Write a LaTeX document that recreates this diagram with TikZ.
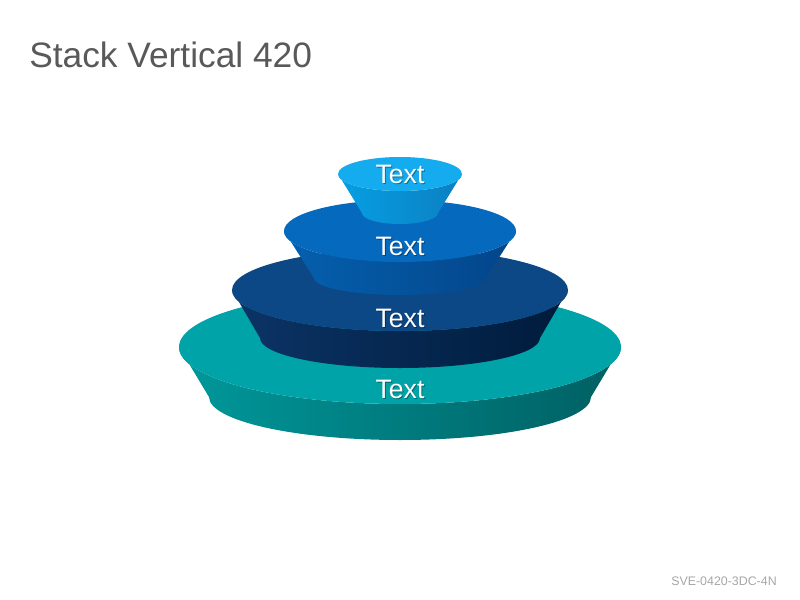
\documentclass[tikz,border=0pt]{standalone}
\usepackage{fontspec}
\setmainfont{Liberation Sans}

\definecolor{tealtop}{RGB}{0,164,168}
\definecolor{tealside}{RGB}{0,152,155}
\definecolor{tealdark}{RGB}{0,95,98}
\definecolor{navytop}{RGB}{12,72,134}
\definecolor{navyside}{RGB}{11,52,102}
\definecolor{navydark}{RGB}{0,27,59}
\definecolor{bluetop}{RGB}{5,105,190}
\definecolor{blueside}{RGB}{5,96,174}
\definecolor{bluedark}{RGB}{3,69,138}
\definecolor{skytop}{RGB}{20,172,238}
\definecolor{skyside}{RGB}{6,159,227}
\definecolor{skydark}{RGB}{11,128,194}
\definecolor{titlegray}{RGB}{89,89,89}
\definecolor{codegray}{RGB}{166,166,166}

% one layer: top y, top rx, top ry, bottom y, bottom rx, bottom ry, top colour, side colours
\newcommand{\layer}[9]{%
  \shade[left color=#8, right color=#9] ({400-#2},#1) -- ({400-#5},#4) arc[start angle=180, end angle=0, x radius=#5, y radius=#6] -- ({400+#2},#1) arc[start angle=0, end angle=180, x radius=#2, y radius=#3] -- cycle;
  \fill[#7] (400,#1) ellipse [x radius=#2, y radius=#3];
}

\tikzset{
  lbl/.style={text=white, inner sep=0.75pt, font=\fontsize{20}{24}\selectfont},
  lblshadow/.style={text=black, opacity=0.35, inner sep=0.75pt, font=\fontsize{20}{24}\selectfont},
}

\begin{document}
\begin{tikzpicture}[x=0.75pt,y=0.75pt,yscale=-1,xscale=1]
\useasboundingbox (0,0) rectangle (800,600);

%Shape: Frustum [bottom]
\layer{347}{221}{57}{397}{191}{43}{tealtop}{tealside}{tealdark}
%Shape: Frustum [third]
\layer{290}{168}{41}{338}{140}{30}{navytop}{navyside}{navydark}
%Shape: Frustum [second]
\layer{231}{116}{31}{278}{86}{17}{bluetop}{blueside}{bluedark}
%Shape: Frustum [top]
\layer{174}{62}{17}{213}{38}{11}{skytop}{skyside}{skydark}

% Text Node
\draw (401,184) node [anchor=base][lblshadow] (t1s) {Text};
\draw (400,183) node [anchor=base][lbl] (t1) {Text};
% Text Node
\draw (401,256) node [anchor=base][lblshadow] (t2s) {Text};
\draw (400,255) node [anchor=base][lbl] (t2) {Text};
% Text Node
\draw (401,328) node [anchor=base][lblshadow] (t3s) {Text};
\draw (400,327) node [anchor=base][lbl] (t3) {Text};
% Text Node
\draw (401,399) node [anchor=base][lblshadow] (t4s) {Text};
\draw (400,398) node [anchor=base][lbl] (t4) {Text};

% Text Node
\draw (29,67) node [anchor=base west][inner sep=0pt, text=titlegray, font=\fontsize{26.5}{32}\selectfont] (title) {Stack Vertical 420};
% Text Node
\draw (777,585) node [anchor=base east][inner sep=0pt, text=codegray, font=\fontsize{9.3}{11}\selectfont] (code) {SVE-0420-3DC-4N};
\end{tikzpicture}
\end{document}
